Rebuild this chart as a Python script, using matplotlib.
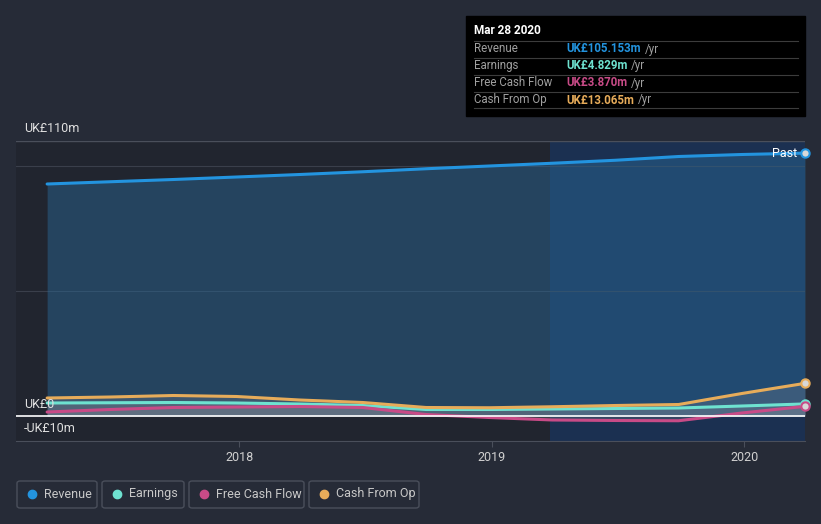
import numpy as np
import matplotlib.pyplot as plt
from matplotlib.patches import FancyBboxPatch, Rectangle

plt.rcParams['font.family'] = ['Roboto', 'DejaVu Sans']

# quarterly points (decimal year), values in UK£m
dates = [2017.24, 2017.49, 2017.74, 2017.99, 2018.24, 2018.49, 2018.74,
         2018.99, 2019.24, 2019.49, 2019.74, 2019.99, 2020.24]
revenue = [92.8, 93.7, 94.6, 95.6, 96.6, 97.7, 98.9, 100.0, 101.1, 102.3, 103.8, 104.6, 105.153]
earnings = [5.2, 5.3, 5.4, 5.2, 4.8, 4.2, 2.6, 2.6, 2.8, 3.0, 3.2, 4.0, 4.829]
free_cash_flow = [1.6, 2.6, 3.4, 3.6, 3.8, 3.4, 0.6, -0.6, -1.6, -1.8, -1.9, 1.2, 3.870]
cash_from_op = [7.2, 7.6, 8.2, 7.8, 6.4, 5.4, 3.4, 3.3, 3.7, 4.2, 4.6, 9.0, 13.065]

series_names = ['Revenue', 'Earnings', 'Free Cash Flow', 'Cash From Op']
series_colors = ['#2394df', '#6ee2d0', '#c84b87', '#e7ac5a']
tooltip_values = ['UK£105.153m', 'UK£4.829m', 'UK£3.870m', 'UK£13.065m']
year_ticks = [2018, 2019, 2020]
past_start = 2019.23

BG = '#262b37'
W, H = 821, 524

fig = plt.figure(figsize=(8.21, 5.24), dpi=100, facecolor=BG)
ax = fig.add_axes([16 / W, 1 - 441 / H, (805 - 16) / W, (441 - 141) / H])
ax.set_facecolor('#21252f')
x0 = 2018 - 223 / 252.5
ax.set_xlim(x0, dates[-1])
ax.set_ylim(-10, 110)

# past highlight
ax.axvspan(past_start, dates[-1], color='#1a3358', alpha=0.85, lw=0, zorder=0)

# gridlines
for g in [100, 50]:
    ax.axhline(g, color='#3a3f4b', lw=0.8, zorder=1)
ax.axhline(110, color='#4a4f5b', lw=1.0, zorder=1)
ax.axhline(0, color='white', lw=1.2, zorder=6)

# fills and lines
all_series = [revenue, earnings, free_cash_flow, cash_from_op]
ax.fill_between(dates, revenue, 0, color='#2a6a9a', alpha=0.45, lw=0, zorder=2)
for s in all_series[1:]:
    ax.fill_between(dates, s, 0, color='#8a8f9a', alpha=0.25, lw=0, zorder=3)
for s, c in zip(all_series, series_colors):
    ax.plot(dates, s, color=c, lw=2.2, zorder=5, solid_capstyle='round')
    ax.plot(dates[-1], s[-1], 'o', ms=6, mfc='#d8d8d8', mec=c, mew=1.5,
            zorder=7, clip_on=False)

ax.text(dates[-1] - 0.03, revenue[-1], 'Past', color='white', fontsize=9,
        ha='right', va='center', zorder=8)

# axes styling
for side in ['top', 'right', 'left']:
    ax.spines[side].set_visible(False)
ax.spines['bottom'].set_color('#4a4f5b')
ax.set_yticks([])
ax.set_xticks(year_ticks)
ax.set_xticklabels([str(y) for y in year_ticks])
ax.tick_params(axis='x', colors='#4a4f5b', labelcolor='#d0d0d0', labelsize=9,
               length=4, pad=3)

# y labels sitting just above their gridlines (pixel rows from the reference)
for ypix, lab in [(129, 'UK£110m'), (404, 'UK£0'), (429, '-UK£10m')]:
    fig.text(24 / W, 1 - ypix / H, lab, color='#e0e0e0', fontsize=9,
             va='center', ha='left', zorder=8)

# tooltip box
fig.patches.append(Rectangle((466 / W, 1 - 116 / H), (805 - 466) / W, 100 / H,
                             transform=fig.transFigure, color='black', zorder=10))
fig.text(474 / W, 1 - 31 / H, 'Mar 28 2020', color='white', fontsize=8.5,
         fontweight='bold', va='center', zorder=11)
for y in [41, 58, 75, 92, 108]:
    fig.add_artist(plt.Line2D([474 / W, 798 / W], [1 - y / H, 1 - y / H],
                              color='#3c3c3c', lw=0.8, zorder=11))
renderer = fig.canvas.get_renderer()
for i, (name, val, c) in enumerate(zip(series_names, tooltip_values, series_colors)):
    yy = 1 - (49 + i * 17) / H
    fig.text(474 / W, yy, name, color='#a0a0a0', fontsize=8.3, va='center', zorder=11)
    t = fig.text(566 / W, yy, val, color=c, fontsize=8.3, fontweight='bold',
                 va='center', zorder=11)
    x_end = t.get_window_extent(renderer).x1
    fig.text((x_end + 4) / W, yy, '/yr', color='#a0a0a0',
             fontsize=8.3, va='center', zorder=11)

# legend boxes
boxes = [(17, 97), (102, 184), (189, 304), (309, 419)]
for (bx0, bx1), name, c in zip(boxes, series_names, series_colors):
    fig.patches.append(FancyBboxPatch((bx0 / W, 1 - 508 / H), (bx1 - bx0) / W, 27 / H,
                                      boxstyle='round,pad=0,rounding_size=0.004',
                                      transform=fig.transFigure, fc='none',
                                      ec='#4a4f5b', lw=1.0))
    fig.add_artist(plt.Line2D([(bx0 + 15) / W], [1 - 494 / H], marker='o', ms=6,
                              color=c, transform=fig.transFigure))
    fig.text((bx0 + 27) / W, 1 - 494 / H, name, color='#c8c8c8', fontsize=9,
             va='center')

fig.savefig('out.png', dpi=100, facecolor=BG)
